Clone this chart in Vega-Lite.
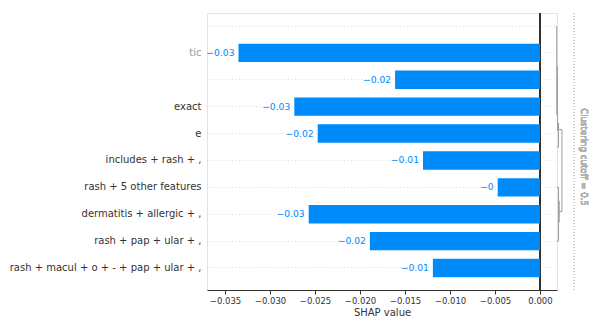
{
  "$schema": "https://vega.github.io/schema/vega-lite/v6.json",
  "width": 350,
  "height": 277,
  "autosize": {"type": "none"},
  "padding": {"left": 207, "top": 13, "right": 36, "bottom": 38},
  "background": "white",
  "config": {
    "font": "DejaVu Sans",
    "view": {"stroke": "#e2e2e2", "strokeWidth": 1}
  },
  "datasets": {
    "bars": [
      {"feature": "", "value": 0, "label": ""},
      {"feature": "tic", "value": -0.0335, "label": "−0.03"},
      {"feature": " ", "value": -0.0161, "label": "−0.02"},
      {"feature": "exact", "value": -0.0273, "label": "−0.03"},
      {"feature": "e", "value": -0.0247, "label": "−0.02"},
      {"feature": "includes + rash + ,", "value": -0.0130, "label": "−0.01"},
      {"feature": "rash + 5 other features", "value": -0.0047, "label": "−0"},
      {"feature": "dermatitis + allergic + ,", "value": -0.0257, "label": "−0.03"},
      {"feature": "rash + pap + ular + ,", "value": -0.0189, "label": "−0.02"},
      {"feature": "rash + macul + o + - + pap + ular + ,", "value": -0.0119, "label": "−0.01"}
    ],
    "dendro": [
      {"x": 0.00186, "x2": 0.00186, "y": 0, "y2": 3.3},
      {"x": 0.00195, "x2": 0.00195, "y": 1.5, "y2": 3.9},
      {"x": 0.00206, "x2": 0.00206, "y": 3.6, "y2": 4.5},
      {"x": 0.00186, "x2": 0.00206, "y": 4.5, "y2": 4.5},
      {"x": 0.00206, "x2": 0.00244, "y": 3.85, "y2": 3.85},
      {"x": 0.00244, "x2": 0.00244, "y": 3.85, "y2": 6.9},
      {"x": 0.00214, "x2": 0.00244, "y": 6.9, "y2": 6.9},
      {"x": 0.00206, "x2": 0.00206, "y": 6, "y2": 8},
      {"x": 0.00186, "x2": 0.00206, "y": 6, "y2": 6},
      {"x": 0.00186, "x2": 0.00206, "y": 8, "y2": 8},
      {"x": 0.00214, "x2": 0.00214, "y": 6.5, "y2": 7.3}
    ]
  },
  "resolve": {"scale": {"x": "independent", "y": "independent"}, "axis": {"x": "independent", "y": "independent"}},
  "layer": [
    {
      "data": {"name": "bars"},
      "encoding": {
        "y": {
          "field": "feature",
          "type": "nominal",
          "sort": null,
          "title": null,
          "scale": {"paddingInner": 0.316, "paddingOuter": 0.31, "align": 0.23},
          "axis": {
            "domain": false,
            "ticks": false,
            "tickSize": 0,
            "labelPadding": 6,
            "labelLimit": 0,
            "labelFontSize": 10,
            "labelColor": {"condition": {"test": "datum.value === 'tic'", "value": "#9a9a9a"}, "value": "#333333"},
            "grid": true,
            "bandPosition": 0.5,
            "gridColor": "#d4d4d4",
            "gridDash": [1, 2.5],
            "gridWidth": 0.8
          }
        },
        "x": {
          "field": "value",
          "type": "quantitative",
          "title": "SHAP value",
          "scale": {"domain": [-0.037, 0.00189], "nice": false, "zero": false},
          "axis": {
            "values": [-0.035, -0.03, -0.025, -0.02, -0.015, -0.01, -0.005, 0],
            "format": ".3f",
            "grid": false,
            "domainColor": "#333333",
            "tickColor": "#333333",
            "tickSize": 4,
            "labelFontSize": 8.5,
            "labelColor": "#333333",
            "labelPadding": 2,
            "titleFontSize": 10,
            "titleFontWeight": "normal",
            "titleColor": "#333333",
            "titlePadding": 3
          }
        }
      },
      "layer": [
        {
          "mark": {"type": "rule", "color": "#333333", "strokeWidth": 1},
          "encoding": {"x": {"datum": 0}, "y": null}
        },
        {
          "mark": {"type": "bar", "color": "#008bfb"}
        },
        {
          "mark": {"type": "text", "align": "right", "baseline": "middle", "dx": -4, "fontSize": 9.2, "color": "#008bfb"},
          "encoding": {"text": {"field": "label"}}
        }
      ]
    },
    {
      "data": {"name": "dendro"},
      "layer": [
        {
          "mark": {"type": "rule", "color": "#9e9e9e", "strokeWidth": 1},
          "encoding": {
            "x": {"field": "x", "type": "quantitative", "scale": {"domain": [-0.037, 0.00189], "nice": false, "zero": false}, "axis": null},
            "x2": {"field": "x2"},
            "y": {"field": "y", "type": "quantitative", "scale": {"domain": [-0.483, 9.814], "reverse": true, "nice": false, "zero": false}, "axis": null},
            "y2": {"field": "y2"}
          }
        },
        {
          "mark": {"type": "rule", "color": "#cfcfcf", "strokeWidth": 1, "strokeDash": [1, 2]},
          "encoding": {
            "x": {"datum": 0.00378, "type": "quantitative"}
          }
        },
        {
          "mark": {"type": "text", "text": "Clustering cutoff = 0.5", "angle": 90, "align": "center", "baseline": "middle", "fontSize": 8.6, "color": "#b0b0b0"},
          "encoding": {
            "x": {"datum": 0.0049, "type": "quantitative"},
            "y": {"datum": 4.87, "type": "quantitative"}
          }
        }
      ]
    }
  ]
}
